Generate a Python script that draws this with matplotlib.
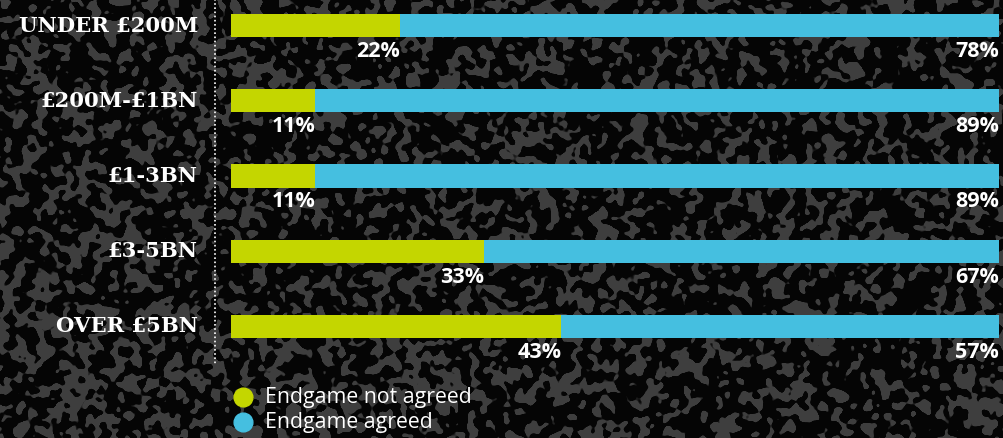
import numpy as np
import matplotlib
matplotlib.use("Agg")
import matplotlib.pyplot as plt
from matplotlib.lines import Line2D

# Survey data: share of deals by size band
categories = ["UNDER £200M", "£200M-£1BN", "£1-3BN", "£3-5BN", "OVER £5BN"]
not_agreed = [22, 11, 11, 33, 43]
agreed = [78, 89, 89, 67, 57]
series_names = ["Endgame not agreed", "Endgame agreed"]

GREEN = "#c4d600"
BLUE = "#45bfe0"

W, H = 1004, 439
fig = plt.figure(figsize=(W / 100, H / 100), dpi=100)
fig.patch.set_facecolor("black")

# Dark mottled backdrop
rng = np.random.default_rng(11)
noise = rng.standard_normal((H, W))
fy = np.fft.fftfreq(H)[:, None]
fx = np.fft.fftfreq(W)[None, :]
sigma = 2.6
kernel = np.exp(-2 * (np.pi ** 2) * sigma ** 2 * (fx ** 2 + fy ** 2))
smooth = np.real(np.fft.ifft2(np.fft.fft2(noise) * kernel))
smooth /= smooth.std()
xs = np.linspace(0, 1, W)[None, :]
thresh = 0.25 + 0.25 * xs
tex = np.clip((smooth - thresh) * 4.0 + 0.5, 0, 1)
gray = 5 + tex * 57
bg = np.dstack([gray, gray, gray]).astype(np.uint8)
bg_ax = fig.add_axes([0, 0, 1, 1], zorder=0)
bg_ax.imshow(bg, aspect="auto", interpolation="bilinear")
bg_ax.axis("off")

# Main bar axes
left_px, right_px = 231, 999
ax = fig.add_axes([left_px / W, 0, (right_px - left_px) / W, 1], zorder=1)
ax.patch.set_alpha(0)
y = np.arange(len(categories))
bar_h = 0.306
ax.barh(y, not_agreed, height=bar_h, color=GREEN, linewidth=0)
ax.barh(y, agreed, left=not_agreed, height=bar_h, color=BLUE, linewidth=0)
ax.set_xlim(0, 100)
top = -26.5 / 75.25
bottom = (H - 26.5) / 75.25
ax.set_ylim(bottom, top)
ax.axis("off")

pct_font = dict(family=["Open Sans", "DejaVu Sans"], weight="bold", size=15.5, color="white")
for i in range(len(categories)):
    ax.text(not_agreed[i], y[i] + 0.33, f"{not_agreed[i]}%", ha="right", va="center", **pct_font)
    ax.text(not_agreed[i] + agreed[i], y[i] + 0.33, f"{agreed[i]}%", ha="right", va="center", **pct_font)
    fig.text(198 / W, 1 - (26.5 + 75.25 * i - 1) / H, categories[i], ha="right", va="center",
             family=["DejaVu Serif"], weight="bold", size=15.2, color="white")

# Dotted separator between labels and bars
fig.add_artist(Line2D([215 / W, 215 / W], [1, 1 - 366 / H], color="white",
                      linestyle=(0, (1, 1.5)), linewidth=1.2))

# Legend
for k, (name, col) in enumerate(zip(series_names, [GREEN, BLUE])):
    cy = 1 - (398 + 25 * k) / H
    fig.add_artist(Line2D([243 / W], [cy], marker="o", markersize=13.5, color=col, linestyle="none"))
    fig.text(265 / W, cy, name, ha="left", va="center", family=["Open Sans", "DejaVu Sans"],
             size=15.3, color="white")

fig.savefig("out.png", dpi=100, facecolor=fig.get_facecolor())
